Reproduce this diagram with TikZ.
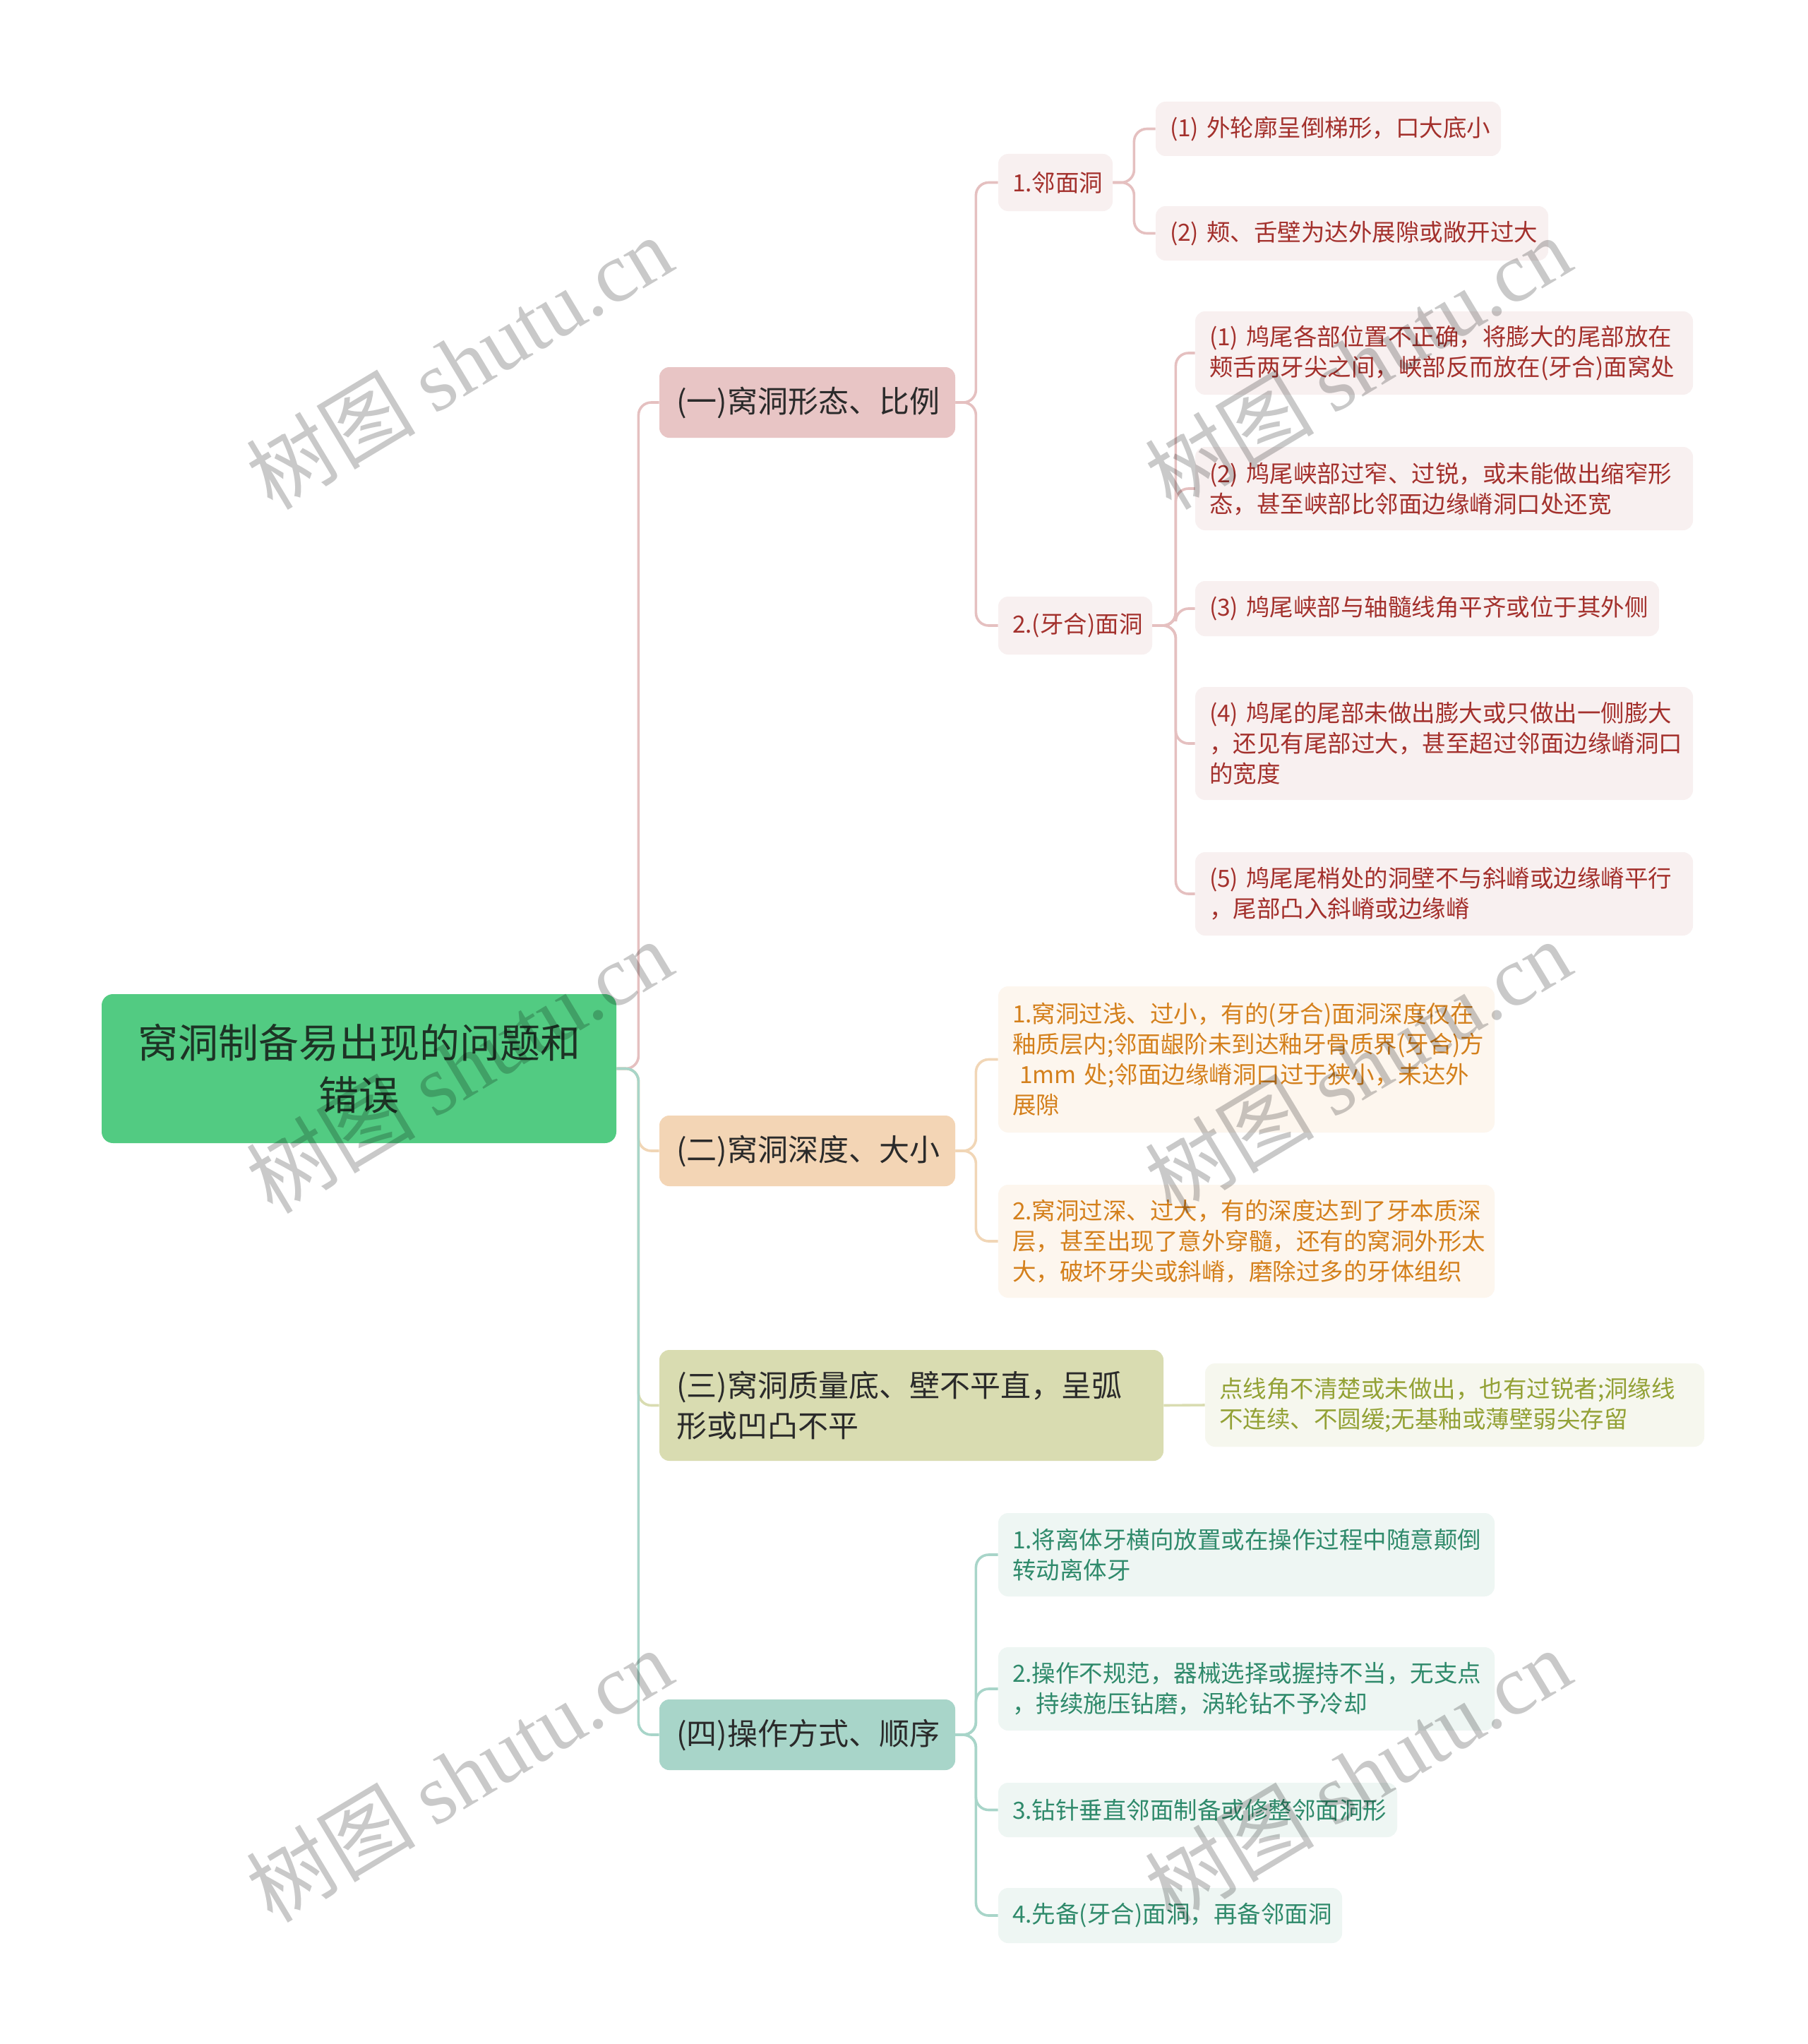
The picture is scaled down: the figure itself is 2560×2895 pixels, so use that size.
\documentclass[tikz,border=0pt]{standalone}
\usepackage{fontspec}
\setmainfont{Noto Sans CJK SC}
\newfontfamily\wmlatin{Liberation Serif}
\definecolor{rootfill}{HTML}{52CB82}
\definecolor{roottext}{HTML}{1D3325}
\definecolor{brtext}{HTML}{2A2A2A}
\definecolor{bfA}{HTML}{E8C5C5}
\definecolor{bfB}{HTML}{F3D5B5}
\definecolor{bfC}{HTML}{D9DCB1}
\definecolor{bfD}{HTML}{A8D5C9}
\definecolor{lfA}{HTML}{F8F0F0}
\definecolor{lfB}{HTML}{FDF6EE}
\definecolor{lfC}{HTML}{F6F7EE}
\definecolor{lfD}{HTML}{EEF6F3}
\definecolor{ltA}{HTML}{A3302C}
\definecolor{ltB}{HTML}{D4801C}
\definecolor{ltC}{HTML}{93A135}
\definecolor{ltD}{HTML}{2F8A6B}
\definecolor{cnA}{HTML}{E5C0C0}
\definecolor{cnB}{HTML}{F1D6B6}
\definecolor{cnC}{HTML}{D9DCB1}
\definecolor{cnD}{HTML}{A8D5C9}
\tikzset{
  base/.style={rectangle, rounded corners=7pt, inner ysep=0pt, anchor=center},
  rootbox/.style={base, rounded corners=8pt, fill=rootfill, text=roottext,
    font=\fontsize{28.5}{37}\selectfont, align=center,
    minimum width=364.5pt, minimum height=105.5pt},
  branchbox/.style={base, text=brtext, font=\fontsize{21.5}{28.5}\selectfont,
    align=left, inner xsep=12pt},
  leafbox/.style={base, font=\fontsize{16.75}{21.5}\selectfont, align=left, inner xsep=10pt},
  leafA/.style={leafbox, fill=lfA, text=ltA},
  leafB/.style={leafbox, fill=lfB, text=ltB},
  leafC/.style={leafbox, fill=lfC, text=ltC},
  leafD/.style={leafbox, fill=lfD, text=ltD},
  conn/.style={line width=1.8pt, rounded corners=9pt},
  connA/.style={conn, draw=cnA},
  connB/.style={conn, draw=cnB},
  connC/.style={conn, draw=cnC},
  connD/.style={conn, draw=cnD},
  wm/.style={anchor=center, rotate=31, text=black, opacity=0.21,
    font=\fontsize{60}{64}\selectfont},
}
\begin{document}
\begin{tikzpicture}[x=0.5pt, y=-0.5pt]
\fill[white] (0,0) rectangle (2560,2895);
\useasboundingbox (0,0) rectangle (2560,2895);

% root
\node[rootbox] (root) at (508.5,1513.5) {窝洞制备易出现的问题和\\错误};

% branches
\node[branchbox, fill=bfA, text width=185.5pt, minimum height=50pt] (b1) at (1143.5,570) {(一)窝洞形态、比例};
\node[branchbox, fill=bfB, text width=185.5pt, minimum height=50pt] (b2) at (1143.5,1630) {(二)窝洞深度、大小};
\node[branchbox, fill=bfC, text width=333pt, minimum height=78.5pt] (b3) at (1291,1990.5) {(三)窝洞质量底、壁不平直，呈弧\\形或凹凸不平};
\node[branchbox, fill=bfD, text width=185.5pt, minimum height=50pt] (b4) at (1143.5,2457) {(四)操作方式、顺序};

% branch 1 children
\node[leafA, text width=61pt, minimum height=40.5pt] (c11) at (1495,258.5) {1.邻面洞};
\node[leafA, text width=89pt, minimum height=41pt] (c12) at (1523,886) {2.(牙合)面洞};
\node[leafA, text width=224.5pt, minimum height=38.5pt] (l111) at (1881.5,182.5) {(1)~外轮廓呈倒梯形，口大底小};
\node[leafA, text width=258pt, minimum height=38.5pt] (l112) at (1915,330.5) {(2)~颊、舌壁为达外展隙或敞开过大};
\node[leafA, text width=332.5pt, minimum height=59pt] (l121) at (2045.5,500) {(1)~鸠尾各部位置不正确，将膨大的尾部放在\\颊舌两牙尖之间，峡部反而放在(牙合)面窝处};
\node[leafA, text width=332.5pt, minimum height=59pt] (l122) at (2045.5,692) {(2)~鸠尾峡部过窄、过锐，或未能做出缩窄形\\态，甚至峡部比邻面边缘嵴洞口处还宽};
\node[leafA, text width=308.5pt, minimum height=39pt] (l123) at (2021.5,862) {(3)~鸠尾峡部与轴髓线角平齐或位于其外侧};
\node[leafA, text width=332.5pt, minimum height=80pt] (l124) at (2045.5,1053) {(4)~鸠尾的尾部未做出膨大或只做出一侧膨大\\，还见有尾部过大，甚至超过邻面边缘嵴洞口\\的宽度};
\node[leafA, text width=332.5pt, minimum height=59pt] (l125) at (2045.5,1266) {(5)~鸠尾尾梢处的洞壁不与斜嵴或边缘嵴平行\\，尾部凸入斜嵴或边缘嵴};

% branch 2 children
\node[leafB, text width=331.5pt, minimum height=103.5pt] (l21) at (1765.5,1500.5) {1.窝洞过浅、过小，有的(牙合)面洞深度仅在\\釉质层内;邻面龈阶未到达釉牙骨质界(牙合)方\\\hspace*{0.3em}1mm~处;邻面边缘嵴洞口过于狭小，未达外\\展隙};
\node[leafB, text width=331.5pt, minimum height=80pt] (l22) at (1765.5,1758) {2.窝洞过深、过大，有的深度达到了牙本质深\\层，甚至出现了意外穿髓，还有的窝洞外形太\\大，破坏牙尖或斜嵴，磨除过多的牙体组织};

% branch 3 child
\node[leafC, text width=333.5pt, minimum height=59pt] (l31) at (2060.5,1990) {点线角不清楚或未做出，也有过锐者;洞缘线\\不连续、不圆缓;无基釉或薄壁弱尖存留};

% branch 4 children
\node[leafD, text width=331.5pt, minimum height=59pt] (l41) at (1765.5,2202) {1.将离体牙横向放置或在操作过程中随意颠倒\\转动离体牙};
\node[leafD, text width=331.5pt, minimum height=59pt] (l42) at (1765.5,2392) {2.操作不规范，器械选择或握持不当，无支点\\，持续施压钻磨，涡轮钻不予冷却};
\node[leafD, text width=262.5pt, minimum height=38.5pt] (l43) at (1696.5,2563.5) {3.钻针垂直邻面制备或修整邻面洞形};
\node[leafD, text width=223.5pt, minimum height=39pt] (l44) at (1657.5,2713) {4.先备(牙合)面洞，再备邻面洞};

% connectors root -> branches
\draw[connB] (root.east) -- ++(31,0) |- (b2.west);
\draw[connC] (root.east) -- ++(31,0) |- (b3.west);
\draw[connA] (root.east) -- ++(31,0) |- (b1.west);
\draw[connD] (root.east) -- ++(31,0) |- (b4.west);

% branch 1
\draw[connA] (b1.east) -- ++(29,0) |- (c11.west);
\draw[connA] (b1.east) -- ++(29,0) |- (c12.west);
\draw[connA] (c11.east) -- ++(30,0) |- (l111.west);
\draw[connA] (c11.east) -- ++(30,0) |- (l112.west);
\draw[connA] (c12.east) -- ++(33,0) |- (l121.west);
\draw[connA] (c12.east) -- ++(33,0) |- (l122.west);
\draw[connA] (c12.east) -- ++(33,0) |- (l123.west);
\draw[connA] (c12.east) -- ++(33,0) |- (l124.west);
\draw[connA] (c12.east) -- ++(33,0) |- (l125.west);

% branch 2
\draw[connB] (b2.east) -- ++(29,0) |- (l21.west);
\draw[connB] (b2.east) -- ++(29,0) |- (l22.west);

% branch 3
\draw[connC] (b3.east) -- (l31.west);

% branch 4
\draw[connD] (b4.east) -- ++(29,0) |- (l41.west);
\draw[connD] (b4.east) -- ++(29,0) |- (l42.west);
\draw[connD] (b4.east) -- ++(29,0) |- (l43.west);
\draw[connD] (b4.east) -- ++(29,0) |- (l44.west);

% watermarks
\node[wm] (w1) at (650,513) {树图 {\wmlatin shutu.cn}};
\node[wm] (w2) at (1923,513) {树图 {\wmlatin shutu.cn}};
\node[wm] (w3) at (650,1510) {树图 {\wmlatin shutu.cn}};
\node[wm] (w4) at (1923,1510) {树图 {\wmlatin shutu.cn}};
\node[wm] (w5) at (650,2514) {树图 {\wmlatin shutu.cn}};
\node[wm] (w6) at (1923,2514) {树图 {\wmlatin shutu.cn}};
\end{tikzpicture}
\end{document}
